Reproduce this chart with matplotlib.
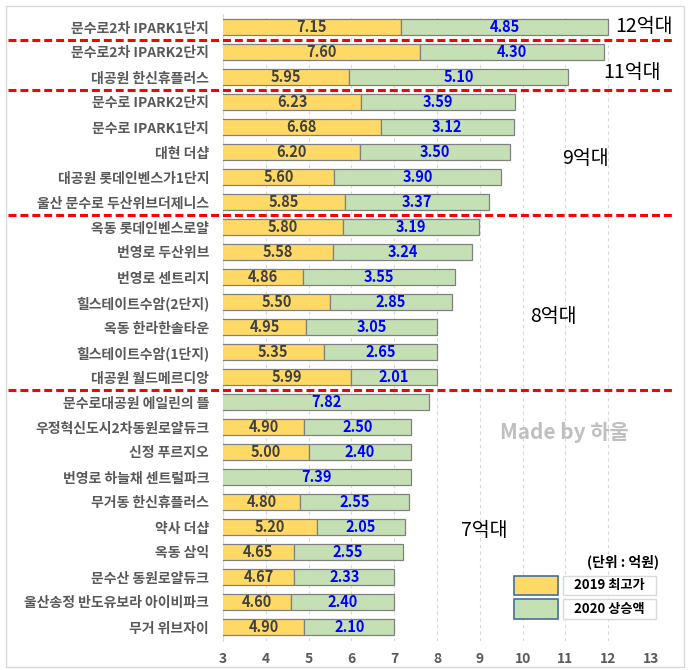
import matplotlib
matplotlib.use("Agg")
import matplotlib.pyplot as plt
import matplotlib.transforms as mtransforms
from matplotlib.patches import Rectangle

plt.rcParams['font.family'] = ['Noto Sans CJK KR', 'DejaVu Sans']

# data (억원)
names = ["문수로2차 IPARK1단지", "문수로2차 IPARK2단지", "대공원 한신휴플러스",
         "문수로 IPARK2단지", "문수로 IPARK1단지", "대현 더샵", "대공원 롯데인벤스가1단지",
         "울산 문수로 두산위브더제니스", "옥동 롯데인벤스로얄", "번영로 두산위브",
         "번영로 센트리지", "힐스테이트수암(2단지)", "옥동 한라한솔타운",
         "힐스테이트수암(1단지)", "대공원 월드메르디앙", "문수로대공원 에일린의 뜰",
         "우정혁신도시2차동원로얄듀크", "신정 푸르지오", "번영로 하늘채 센트럴파크",
         "무거동 한신휴플러스", "약사 더샵", "옥동 삼익", "문수산 동원로얄듀크",
         "울산송정 반도유보라 아이비파크", "무거 위브자이"]
price_2019 = [7.15, 7.60, 5.95, 6.23, 6.68, 6.20, 5.60, 5.85, 5.80, 5.58, 4.86, 5.50,
              4.95, 5.35, 5.99, 0, 4.90, 5.00, 0, 4.80, 5.20, 4.65, 4.67, 4.60, 4.90]
rise_2020 = [4.85, 4.30, 5.10, 3.59, 3.12, 3.50, 3.90, 3.37, 3.19, 3.24, 3.55, 2.85,
             3.05, 2.65, 2.01, 7.82, 2.50, 2.40, 7.39, 2.55, 2.05, 2.55, 2.33, 2.40, 2.10]
group_breaks = [0.5, 2.5, 7.5, 14.5]
group_labels = ["12억대", "11억대", "9억대", "8억대", "7억대"]
group_pos = [(12.84, 0), (12.56, 1.84), (11.46, 5.28), (10.71, 11.6), (9.10, 20.16)]

YELLOW = "#FFD966"
GREEN = "#C5E0B4"
EDGE = "#808080"

W, H = 688, 670
fig = plt.figure(figsize=(W / 100, H / 100), dpi=100)


def fx(px):
    return px / W


def fy(py):
    return 1 - py / H


ax = fig.add_axes([fx(223), fy(641), fx(651) - fx(223), fy(14) - fy(641)])

y = list(range(len(names)))
ax.barh(y, price_2019, height=0.65, color=YELLOW, edgecolor=EDGE, linewidth=0.9, zorder=3)
ax.barh(y, rise_2020, left=price_2019, height=0.65, color=GREEN, edgecolor=EDGE,
        linewidth=0.9, zorder=3)

for i in y:
    p, r = price_2019[i], rise_2020[i]
    if p > 0:
        ax.text((3 + p) / 2, i, f"{p:.2f}", ha="center", va="center",
                fontsize=10.5, fontweight="bold", color="#404040", zorder=4)
    ax.text((max(p, 3) + p + r) / 2, i, f"{r:.2f}", ha="center", va="center",
            fontsize=10.5, fontweight="bold", color="#0000FF", zorder=4)

ax.set_xlim(3, 13)
ax.set_ylim(24.56, -0.52)
ax.set_xticks(range(3, 14))
ax.set_yticks(y)
ax.set_yticklabels(names)
ax.tick_params(axis="y", length=0, pad=10, labelsize=10, labelcolor="#595959")
ax.tick_params(axis="x", length=0, pad=8, labelsize=10, labelcolor="#595959")
for lbl in ax.get_yticklabels() + ax.get_xticklabels():
    lbl.set_fontweight("bold")

for s in ["top", "right", "bottom"]:
    ax.spines[s].set_visible(False)
ax.spines["left"].set_color("#D9D9D9")
ax.set_axisbelow(True)
ax.grid(axis="x", color="#D9D9D9", linestyle=(0, (3, 3)), linewidth=0.8)
ax.grid(axis="y", visible=False)

# red group dividers
trans = mtransforms.blended_transform_factory(fig.transFigure, ax.transData)
for b in group_breaks:
    ax.plot([fx(8), fx(672)], [b, b], transform=trans, color="#FF0000", lw=2.2,
            linestyle=(0, (2.6, 1.3)), clip_on=False, zorder=5)

for lab, (gx, gy) in zip(group_labels, group_pos):
    ax.text(gx, gy, lab, ha="center", va="center", fontsize=14, color="black",
            fontweight="medium", clip_on=False, zorder=6)

ax.text(10.97, 16.2, "Made by 하울", ha="center", va="center", fontsize=15,
        color="#BFBFBF", fontweight="bold")
ax.text(12.35, 21.4, "(단위 : 억원)", ha="center", va="center", fontsize=10,
        color="black", fontweight="bold")

# legend boxes
legend_items = [("2019 최고가", YELLOW, 576, 595), ("2020 상승액", GREEN, 599, 619)]
for text, col, top, bot in legend_items:
    fig.add_artist(Rectangle((fx(514), fy(bot)), fx(558) - fx(514), fy(top) - fy(bot),
                             transform=fig.transFigure, facecolor=col,
                             edgecolor="#41719C", linewidth=1.2))
    fig.add_artist(Rectangle((fx(563), fy(bot)), fx(656) - fx(563), fy(top) - fy(bot),
                             transform=fig.transFigure, facecolor="white",
                             edgecolor="#D9D9D9", linewidth=1))
    fig.text(fx(609.5), fy((top + bot) / 2), text, ha="center", va="center",
             fontsize=9.5, fontweight="bold", color="black")

# outer frame
fig.add_artist(Rectangle((fx(6), fy(667)), fx(684) - fx(6), fy(6) - fy(667),
                         transform=fig.transFigure, fill=False, edgecolor="#D9D9D9",
                         linewidth=1))

fig.savefig("out.png", dpi=100)
